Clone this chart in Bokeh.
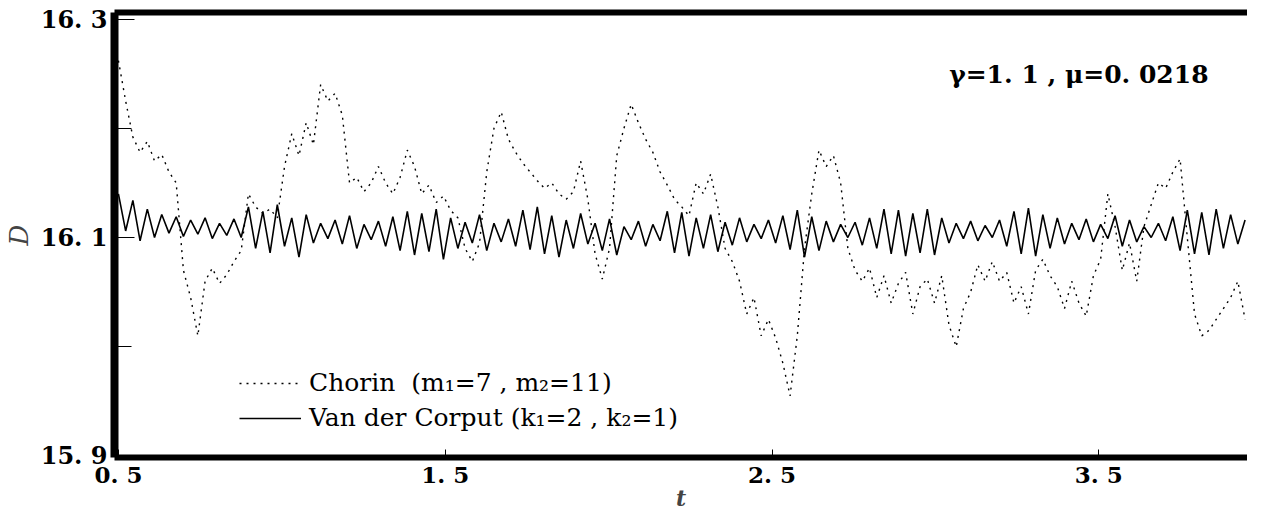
from bokeh.plotting import figure
from bokeh.models import Range1d, FixedTicker, LinearAxis, Label, Legend, LegendItem, ColumnDataSource
from bokeh.embed import file_html
from bokeh.resources import INLINE

# ---------------- data ----------------
t_start = 0.5
t_step = 0.0221

vdc_D = [
    16.140, 16.106, 16.134, 16.097, 16.126, 16.100, 16.121, 16.104, 16.119, 16.101,
    16.116, 16.103, 16.118, 16.099, 16.113, 16.102, 16.117, 16.100, 16.128, 16.090,
    16.124, 16.086, 16.130, 16.092, 16.118, 16.082, 16.121, 16.095, 16.113, 16.099,
    16.116, 16.094, 16.120, 16.090, 16.112, 16.098, 16.115, 16.092, 16.119, 16.088,
    16.124, 16.084, 16.122, 16.087, 16.126, 16.080, 16.118, 16.090, 16.114, 16.095,
    16.121, 16.088, 16.113, 16.096, 16.117, 16.092, 16.125, 16.089, 16.128, 16.085,
    16.120, 16.082, 16.116, 16.090, 16.122, 16.094, 16.113, 16.088, 16.117, 16.084,
    16.110, 16.098, 16.115, 16.092, 16.112, 16.097, 16.124, 16.086, 16.123, 16.083,
    16.118, 16.090, 16.121, 16.087, 16.114, 16.093, 16.118, 16.096, 16.112, 16.099,
    16.116, 16.095, 16.120, 16.089, 16.125, 16.082, 16.119, 16.088, 16.115, 16.096,
    16.112, 16.100, 16.114, 16.093, 16.118, 16.090, 16.126, 16.085, 16.125, 16.083,
    16.122, 16.086, 16.126, 16.084, 16.118, 16.095, 16.113, 16.099, 16.115, 16.097,
    16.111, 16.100, 16.116, 16.092, 16.124, 16.085, 16.127, 16.083, 16.121, 16.090,
    16.118, 16.094, 16.113, 16.098, 16.117, 16.096, 16.112, 16.099, 16.120, 16.092,
    16.116, 16.096, 16.110, 16.100, 16.113, 16.097, 16.119, 16.088, 16.125, 16.085,
    16.123, 16.084, 16.126, 16.090, 16.121, 16.094, 16.116,
]

chorin_D = [
    16.262, 16.225, 16.192, 16.178, 16.188, 16.170, 16.176, 16.160, 16.150, 16.070,
    16.045, 16.010, 16.060, 16.072, 16.058, 16.066, 16.078, 16.088, 16.140, 16.128,
    16.122, 16.126, 16.118, 16.165, 16.195, 16.175, 16.205, 16.185, 16.240, 16.225,
    16.232, 16.212, 16.150, 16.155, 16.142, 16.150, 16.165, 16.150, 16.140, 16.155,
    16.180, 16.165, 16.140, 16.148, 16.132, 16.138, 16.125, 16.118, 16.090, 16.078,
    16.095, 16.160, 16.200, 16.215, 16.190, 16.178, 16.168, 16.160, 16.152, 16.145,
    16.150, 16.140, 16.135, 16.142, 16.170, 16.135, 16.085, 16.062, 16.090, 16.175,
    16.200, 16.222, 16.205, 16.190, 16.178, 16.160, 16.148, 16.135, 16.128, 16.120,
    16.150, 16.140, 16.158, 16.128, 16.090, 16.078, 16.060, 16.030, 16.045, 16.010,
    16.025, 16.008, 15.985, 15.955, 16.010, 16.090, 16.140, 16.180, 16.165, 16.175,
    16.150, 16.090, 16.070, 16.060, 16.072, 16.045, 16.065, 16.040, 16.058, 16.068,
    16.030, 16.055, 16.062, 16.040, 16.065, 16.020, 16.000, 16.035, 16.050, 16.075,
    16.060, 16.078, 16.060, 16.068, 16.040, 16.055, 16.030, 16.070, 16.080, 16.065,
    16.055, 16.035, 16.060, 16.040, 16.028, 16.065, 16.080, 16.140, 16.110, 16.070,
    16.095, 16.060, 16.110, 16.130, 16.150, 16.145, 16.160, 16.172, 16.100, 16.030,
    16.010, 16.015, 16.025, 16.035, 16.045, 16.060, 16.025,
]

t_vdc = [t_start + i * t_step for i in range(len(vdc_D))]
t_chorin = [t_start + i * t_step for i in range(len(chorin_D))]

x_tick_pos = [0.5, 1.5, 2.5, 3.5]
x_tick_labels = ["0. 5", "1. 5", "2. 5", "3. 5"]
y_tick_pos = [15.9, 16.1, 16.3]
y_tick_labels = ["15. 9", "16. 1", "16. 3"]
y_minor_pos = [16.0, 16.2]

legend_chorin = "Chorin  (m₁=7 , m₂=11)"
legend_vdc = "Van der Corput (k₁=2 , k₂=1)"
param_text = "γ=1. 1 , μ=0. 0218"

SERIF = "DejaVu Serif"

# ---------------- figure ----------------
p = figure(width=1247, height=513,
           x_range=Range1d(0.488, 3.955), y_range=Range1d(15.8986, 16.306),
           output_backend="svg", toolbar_location=None,
           min_border_left=106, min_border_right=0,
           min_border_top=12, min_border_bottom=56)
p.grid.visible = False
p.outline_line_color = None
p.background_fill_color = "white"
p.border_fill_color = "white"

src_c = ColumnDataSource(dict(t=t_chorin, D=chorin_D))
src_v = ColumnDataSource(dict(t=t_vdc, D=vdc_D))
r_c = p.line("t", "D", source=src_c, line_color="black", line_width=1.4, line_dash="2 5")
r_v = p.line("t", "D", source=src_v, line_color="black", line_width=1.6)

# x axis (bottom)
xa = p.xaxis[0]
xa.ticker = FixedTicker(ticks=x_tick_pos)
xa.major_label_overrides = dict(zip(x_tick_pos, x_tick_labels))
xa.axis_line_width = 6
xa.axis_line_color = "black"
xa.major_tick_in = 8
xa.major_tick_out = 0
xa.minor_tick_in = 0
xa.minor_tick_out = 0
xa.major_tick_line_width = 1
xa.major_label_standoff = 3
xa.major_label_text_font = SERIF
xa.major_label_text_font_style = "bold"
xa.major_label_text_font_size = "23px"
xa.major_label_text_color = "black"
xa.axis_label = "t"
xa.axis_label_text_font = SERIF
xa.axis_label_text_font_style = "bold italic"
xa.axis_label_text_font_size = "22px"
xa.axis_label_standoff = -6

# y axis (left)
ya = p.yaxis[0]
ya.ticker = FixedTicker(ticks=y_tick_pos, minor_ticks=y_minor_pos)
ya.major_label_overrides = dict(zip(y_tick_pos, y_tick_labels))
ya.axis_line_width = 8
ya.axis_line_color = "black"
ya.major_tick_in = 20
ya.major_tick_out = 0
ya.minor_tick_in = 17
ya.minor_tick_out = 0
ya.major_tick_line_width = 1
ya.minor_tick_line_width = 1
ya.major_label_standoff = 7
ya.major_label_text_font = SERIF
ya.major_label_text_font_style = "bold"
ya.major_label_text_font_size = "24px"
ya.major_label_text_color = "black"
ya.axis_label = "D"
ya.axis_label_text_font = SERIF
ya.axis_label_text_font_style = "italic"
ya.axis_label_text_font_size = "26px"
ya.axis_label_standoff = 4

# top frame line
top = LinearAxis(ticker=FixedTicker(ticks=[]), axis_line_width=6, axis_line_color="black",
                 major_tick_in=0, major_tick_out=0, minor_tick_in=0, minor_tick_out=0,
                 major_label_text_font_size="0px", major_label_standoff=0)
p.add_layout(top, "above")

# parameter text
p.add_layout(Label(x=3.042, y=16.249, text=param_text, text_font=SERIF,
                   text_font_style="bold", text_font_size="25px",
                   text_baseline="middle", text_align="left", text_color="black"))

# legend
leg = Legend(items=[LegendItem(label=legend_chorin, renderers=[r_c]),
                    LegendItem(label=legend_vdc, renderers=[r_v])],
             location=(125, 25), orientation="vertical",
             label_text_font=SERIF, label_text_font_size="25px",
             label_text_color="black",
             glyph_width=62, glyph_height=20, label_height=26,
             label_standoff=8, spacing=6, padding=0, margin=0,
             border_line_color=None, background_fill_alpha=0)
p.add_layout(leg, "center")

open("out.html", "w").write(file_html(p, INLINE))
